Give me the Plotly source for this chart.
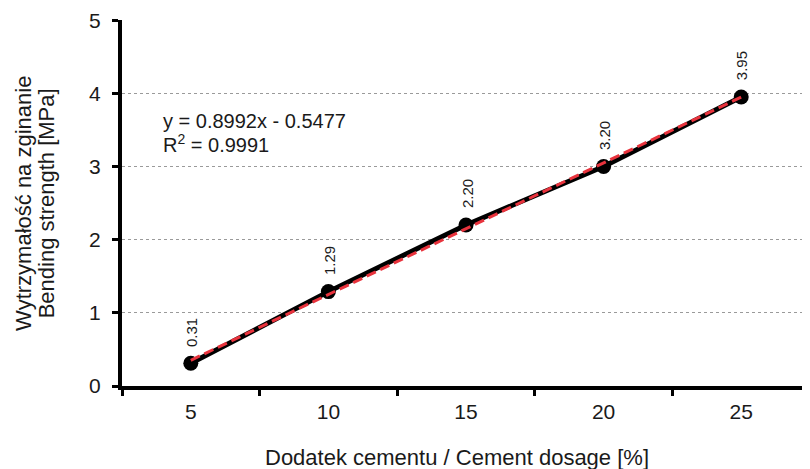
import plotly.graph_objects as go

# ---- data ----
categories = ["5", "10", "15", "20", "25"]
strength = [0.31, 1.29, 2.20, 3.00, 3.95]
point_labels = ["0.31", "1.29", "2.20", "3.20", "3.95"]
trend_slope = 0.8992
trend_intercept = -0.5477
equation_text = "y = 0.8992x - 0.5477"
r2_text = "R<sup>2</sup> = 0.9991"
x_title = "Dodatek cementu / Cement dosage [%]"
y_title_lines = ["Wytrzymałość na zginanie", "Bending strength [MPa]"]

trend = [trend_slope * (i + 1) + trend_intercept for i in range(len(categories))]

FONT = "Liberation Sans, Arial, sans-serif"
TXT = "#1a1a1a"

fig = go.Figure()
fig.add_trace(go.Scatter(
    x=categories, y=strength, mode="lines+markers",
    line=dict(color="black", width=5),
    marker=dict(color="black", size=15),
    showlegend=False, hoverinfo="skip",
))
fig.add_trace(go.Scatter(
    x=categories, y=trend, mode="lines",
    line=dict(color="#e8333d", width=3, dash="10px,5px"),
    showlegend=False, hoverinfo="skip",
))

annotations = []
for i, (v, t) in enumerate(zip(strength, point_labels)):
    annotations.append(dict(
        x=i, y=v, xref="x", yref="y", text=t, showarrow=False,
        textangle=-90, xanchor="center", yanchor="middle",
        yshift=31, xshift=1, font=dict(family=FONT, size=15, color=TXT),
    ))

annotations += [
    dict(x=0.056, y=0.725, xref="paper", yref="paper", text=equation_text,
         showarrow=False, xanchor="left", yanchor="middle",
         font=dict(family=FONT, size=20, color=TXT)),
    dict(x=0.056, y=0.662, xref="paper", yref="paper", text=r2_text,
         showarrow=False, xanchor="left", yanchor="middle",
         font=dict(family=FONT, size=20, color=TXT)),
    dict(x=0.487, y=-0.194, xref="paper", yref="paper", text=x_title,
         showarrow=False, xanchor="center", yanchor="middle",
         font=dict(family=FONT, size=22, color=TXT)),
    dict(x=-0.144, y=0.5, xref="paper", yref="paper", text=y_title_lines[0],
         showarrow=False, xanchor="center", yanchor="middle", textangle=-90,
         font=dict(family=FONT, size=22, color=TXT)),
    dict(x=-0.110, y=0.5, xref="paper", yref="paper", text=y_title_lines[1],
         showarrow=False, xanchor="center", yanchor="middle", textangle=-90,
         font=dict(family=FONT, size=22, color=TXT)),
]

fig.update_layout(
    width=802, height=461,
    margin=dict(l=114, r=0, t=7, b=83),
    paper_bgcolor="white", plot_bgcolor="white",
    font=dict(family=FONT, color=TXT),
    annotations=annotations,
    xaxis=dict(
        type="category", range=[-0.5, 4.5], tickson="boundaries",
        showline=True, linecolor="black", linewidth=4,
        ticks="outside", ticklen=6, tickwidth=3, tickcolor="black",
        showgrid=False, zeroline=False, ticklabelstandoff=4,
        tickfont=dict(family=FONT, size=21, color=TXT),
    ),
    yaxis=dict(
        range=[0, 5.002], tickmode="array", tickvals=[0, 1, 2, 3, 4, 5],
        showline=True, linecolor="black", linewidth=4,
        ticks="outside", ticklen=6, tickwidth=3, tickcolor="black",
        showgrid=True, gridcolor="#9a9a9a", gridwidth=1, griddash="dot",
        zeroline=False, ticklabelstandoff=7, ticklabeloverflow="allow",
        tickfont=dict(family=FONT, size=21, color=TXT),
    ),
)

fig.write_html("out.html")
